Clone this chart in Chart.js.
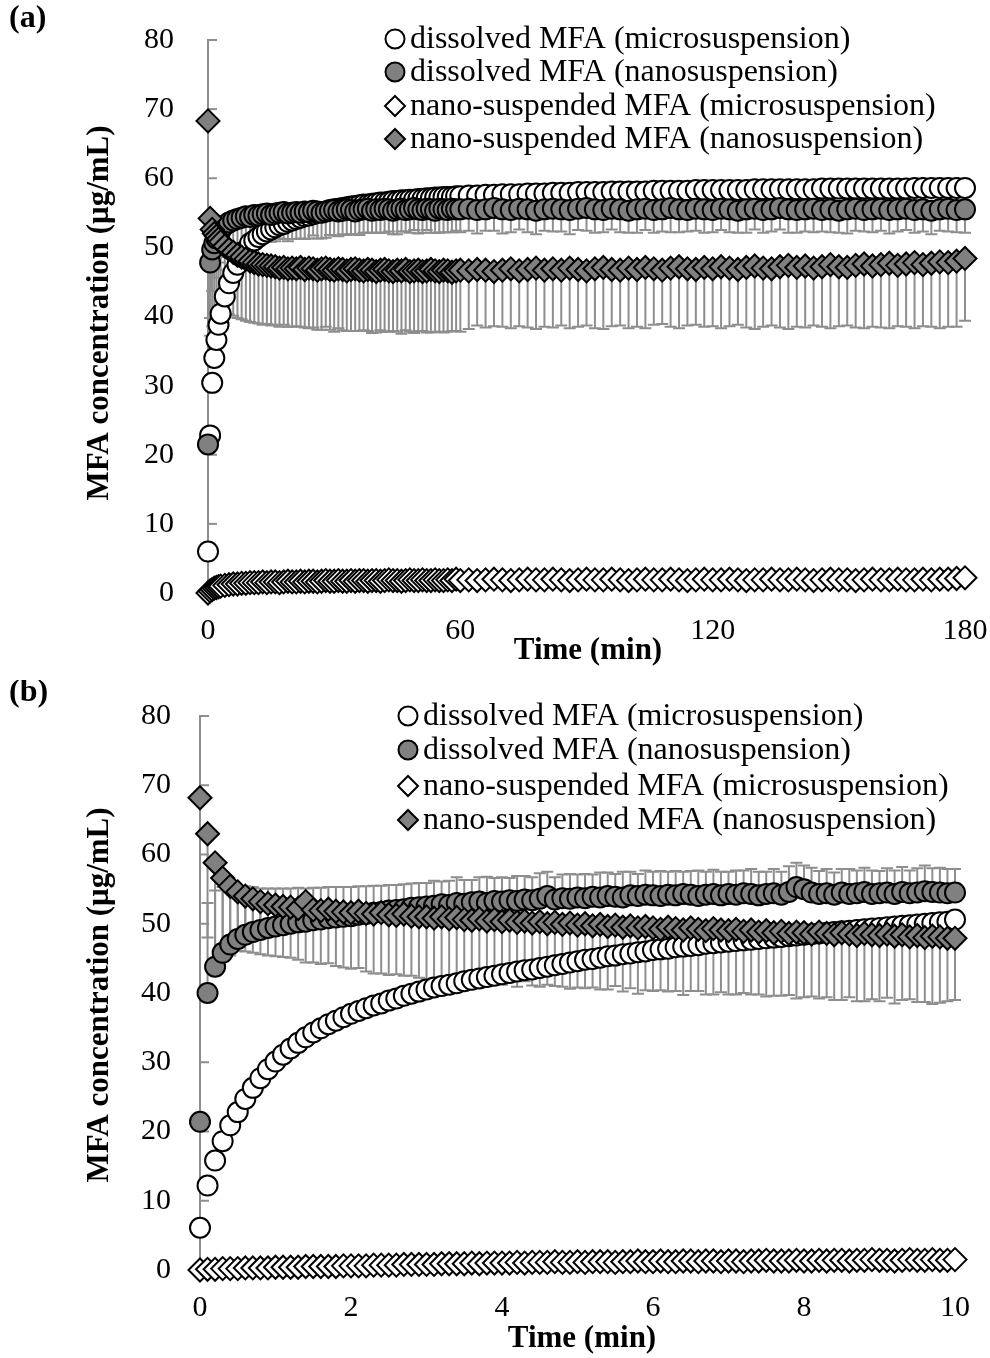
<!DOCTYPE html>
<html>
<head>
<meta charset="utf-8">
<script src="https://cdn.jsdelivr.net/npm/chart.js@4.4.0/dist/chart.umd.min.js"></script>
<style>
html, body { margin: 0; padding: 0; background: #fff; }
#wrap { position: relative; width: 990px; height: 1358px; }
.box { position: absolute; left: 0; width: 990px; }
#boxA { top: 0; height: 680px; }
#boxB { top: 680px; height: 678px; }
</style>
</head>
<body>
<div id="wrap">
  <div class="box" id="boxA"><canvas id="chartA"></canvas></div>
  <div class="box" id="boxB"><canvas id="chartB"></canvas></div>
</div>
<script>
// labels
const seriesNames = ['dissolved MFA (microsuspension)', 'dissolved MFA (nanosuspension)',
  'nano-suspended MFA (microsuspension)', 'nano-suspended MFA (nanosuspension)'];
const yTicks = [0, 10, 20, 30, 40, 50, 60, 70, 80];

// panel (a): 0-180 min
const timeA = [0,0.5,1,1.5,2,2.5,3,4,5,6,7,8,9,10,
  11,12,13,14,15,16,17,18,19,20,21,22,23,24,25,26,27,28,29,30,31,32,33,34,35,36,37,38,39,40,
  41,42,43,44,45,46,47,48,49,50,51,52,53,54,55,56,57,58,59,60,
  62,64,66,68,70,72,74,76,78,80,82,84,86,88,90,92,94,96,98,100,102,104,106,108,110,112,114,116,118,120,
  122,124,126,128,130,132,134,136,138,140,142,144,146,148,150,152,154,156,158,160,162,164,166,168,170,172,174,176,178,180];

const dissMicroA = [6.0,22.8,30.4,34.0,36.6,38.8,40.4,42.9,44.8,46.3,47.5,48.6,49.6,50.6,
  51.0,51.5,51.9,52.3,52.6,52.9,53.2,53.4,53.7,53.9, 54.1,54.3,54.5,54.6,54.8,55.0,55.1,55.2,55.4,55.5,
  55.6,55.7,55.8,55.9,56.0,56.1,56.2,56.2,56.3,56.4, 56.5,56.5,56.6,56.7,56.7,56.8,56.8,56.9,56.9,57.0,
  57.0,57.1,57.1,57.2,57.2,57.3,57.3,57.3,57.4,57.4, 57.5,57.5,57.6,57.6,57.7,57.7,57.7,57.8,57.8,57.8,
  57.9,57.9,57.9,58.0,58.0,58.0,58.0,58.1,58.1,58.1, 58.1,58.1,58.2,58.2,58.2,58.2,58.2,58.3,58.3,58.3,
  58.3,58.3,58.3,58.3,58.4,58.4,58.4,58.4,58.4,58.4, 58.4,58.4,58.5,58.5,58.5,58.5,58.5,58.5,58.5,58.5,
  58.5,58.5,58.5,58.6,58.6,58.6,58.6,58.6,58.6,58.6];

const dissNanoA = [21.5,47.8,49.7,50.6,51.3,51.8,52.4,53.2,53.6,53.9,54.1,54.3,54.5,54.4,
  54.7,54.6,54.8,54.9,54.7,54.9,55.0,55.1,54.9,55.0, 55.1,55.0,55.2,55.1,55.3,55.2,55.0,55.2,55.3,55.4,
  55.2,55.3,55.5,55.4,55.2,55.4,55.5,55.6,55.3,55.5, 55.4,55.6,55.5,55.3,55.5,55.6,55.4,55.5,55.7,55.5,
  55.4,55.6,55.5,55.3,55.6,55.5,55.4,55.6,55.5,55.5, 55.6,55.4,55.5,55.7,55.5,55.4,55.6,55.5,55.3,55.5,
  55.6,55.5,55.4,55.6,55.7,55.5,55.4,55.6,55.5,55.3, 55.5,55.6,55.4,55.5,55.7,55.5,55.4,55.6,55.5,55.4,
  55.6,55.5,55.3,55.5,55.6,55.4,55.5,55.7,55.5,55.4, 55.5,55.6,55.4,55.5,55.3,55.5,55.6,55.4,55.5,55.6,
  55.4,55.5,55.6,55.4,55.5,55.3,55.5,55.6,55.4,55.5];
const dissNanoErrA = [0,8.0,6.0,5.0,4.5,4.0,3.8,3.6,3.5,3.5,3.6,3.7,3.8,3.8,
  3.9,4.0,3.8,4.1,3.9,4.0,3.7,3.9,4.0,3.8, 3.9,3.7,4.0,3.8,3.6,3.9,3.7,3.8,3.5,3.7,
  3.6,3.4,3.7,3.5,3.3,3.6,3.4,3.5,3.2,3.4, 3.3,3.5,3.2,3.4,3.6,3.3,3.1,3.4,3.2,3.5,
  3.3,3.1,3.4,3.2,3.5,3.3,3.2,3.4,3.1,3.3, 3.2,3.4,3.1,3.3,3.5,3.2,3.0,3.3,3.4,3.1,
  3.3,3.2,3.5,3.1,3.3,3.4,3.2,3.0,3.3,3.2, 3.4,3.1,3.3,3.2,3.5,3.3,3.1,3.2,3.4,3.2,
  3.1,3.3,3.2,3.4,3.0,3.3,3.2,3.1,3.4,3.3, 3.2,3.4,3.1,3.3,3.2,3.5,3.2,3.1,3.3,3.2,
  3.4,3.2,3.1,3.3,3.2,3.4,3.1,3.3,3.2,3.4];

const suspMicroA = [0.0,0.3,0.5,0.7,0.8,0.9,1.0,1.1,1.2,1.3,1.3,1.4,1.4,1.5,
  1.5,1.5,1.6,1.5,1.6,1.6,1.5,1.6,1.7,1.6, 1.6,1.7,1.6,1.7,1.7,1.6,1.7,1.8,1.7,1.7,
  1.8,1.7,1.7,1.8,1.7,1.8,1.8,1.7,1.8,1.8, 1.7,1.8,1.9,1.8,1.8,1.7,1.8,1.9,1.8,1.8,
  1.9,1.8,1.8,1.9,1.8,1.8,1.9,1.8,2.0,1.8, 1.9,1.8,1.9,2.0,1.9,1.8,1.9,2.0,1.9,1.9,
  2.0,1.9,1.8,1.9,2.0,1.9,1.9,2.0,1.9,1.8, 1.9,2.0,1.9,1.9,2.0,1.9,1.8,1.9,2.0,1.9,
  1.9,2.0,1.9,1.8,1.9,1.9,2.0,1.9,1.9,2.0, 1.9,1.8,1.9,2.0,1.9,1.9,1.8,1.9,2.0,1.9,
  1.9,2.0,1.9,1.9,2.0,1.9,2.0,2.0,2.1,2.2];

const suspNanoA = [68.3,54.2,52.6,52.0,51.6,51.2,50.8,50.2,49.7,49.3,48.9,48.6,48.3,48.0,
  47.8,47.6,47.5,47.4,47.3,47.2,47.0,47.1,46.9,47.0, 46.9,47.1,46.8,47.0,46.9,46.7,46.9,47.0,46.8,46.7,
  46.9,46.8,46.6,46.8,46.9,46.7,46.6,46.8,46.7,46.5, 46.7,46.8,46.6,46.5,46.7,46.6,46.8,46.5,46.6,46.7,
  46.5,46.6,46.8,46.6,46.5,46.7,46.6,46.4,46.6,46.7, 46.6,46.8,46.7,46.5,46.7,46.9,46.6,46.8,47.0,46.7,
  46.9,46.7,47.0,46.8,46.6,46.9,47.1,46.8,46.7,47.0, 46.8,47.1,46.9,46.7,47.0,47.2,46.9,46.8,47.1,46.9,
  47.2,47.0,46.8,47.1,47.3,47.0,46.9,47.2,47.4,47.1, 47.3,47.0,47.2,47.5,47.2,47.1,47.4,47.6,47.3,47.5,
  47.7,47.4,47.6,47.8,47.5,47.7,47.9,47.8,48.0,48.4];
const suspNanoErrA = [0,17,14,12,11,10.5,10,9.6,9.4,9.2,9.1,9.0,8.9,8.8,
  8.7,8.6,8.7,8.5,8.6,8.4,8.5,8.3,8.4,8.5, 8.3,8.6,8.4,8.7,8.5,8.6,8.8,8.5,8.7,8.9,
  8.6,8.8,8.7,8.9,9.0,8.8,8.6,8.9,9.1,8.8, 8.7,9.0,8.8,8.6,8.9,9.1,8.8,8.7,9.0,8.8,
  8.6,8.9,9.1,8.8,8.7,9.0,8.8,8.5,8.7,8.9, 8.4,8.1,8.3,7.9,8.2,8.6,8.0,8.4,8.8,8.2,
  8.5,8.0,8.7,8.3,7.9,8.6,8.9,8.2,8.0,8.7, 8.3,8.8,8.1,7.8,8.5,8.9,8.2,8.0,8.6,8.3,
  8.9,8.4,8.0,8.7,9.1,8.5,8.2,8.8,9.2,8.6, 8.9,8.3,8.7,9.2,8.6,8.4,9.0,9.3,8.8,9.1,
  9.4,8.8,9.1,9.5,8.9,9.2,9.6,9.3,9.5,9.0];

// panel (b): 0-10 min
const timeB = [0,0.1,0.2,0.3,0.4,0.5,0.6,0.7,0.8,0.9,1,1.1,1.2,1.3,1.4,1.5,1.6,1.7,1.8,1.9,
  2,2.1,2.2,2.3,2.4,2.5,2.6,2.7,2.8,2.9,3,3.1,3.2,3.3,3.4,3.5,3.6,3.7,3.8,3.9,
  4,4.1,4.2,4.3,4.4,4.5,4.6,4.7,4.8,4.9,5,5.1,5.2,5.3,5.4,5.5,5.6,5.7,5.8,5.9,
  6,6.1,6.2,6.3,6.4,6.5,6.6,6.7,6.8,6.9,7,7.1,7.2,7.3,7.4,7.5,7.6,7.7,7.8,7.9,
  8,8.1,8.2,8.3,8.4,8.5,8.6,8.7,8.8,8.9,9,9.1,9.2,9.3,9.4,9.5,9.6,9.7,9.8,9.9,10];

const dissMicroB = [6.1,12.2,15.8,18.6,20.9,22.8,24.7,26.3,27.7,29.0,
  30.1,31.1,32.0,32.8,33.6,34.3,34.9,35.5,36.0,36.5, 37.0,37.4,37.8,38.2,38.5,38.9,39.2,39.6,39.9,40.2,
  40.5,40.8,41.0,41.2,41.4,41.7,41.9,42.1,42.3,42.5, 42.7,42.9,43.1,43.3,43.4,43.6,43.8,44.0,44.2,44.4,
  44.6,44.8,44.9,45.1,45.3,45.4,45.6,45.7,45.9,46.0, 46.2,46.3,46.4,46.6,46.7,46.8,46.9,47.1,47.2,47.3,
  47.4,47.5,47.6,47.7,47.8,47.9,48.0,48.1,48.2,48.3, 48.4,48.5,48.6,48.7,48.8,48.9,49.0,49.1,49.2,49.3,
  49.4,49.5,49.6,49.7,49.8,49.9,50.0,50.1,50.2,50.3, 50.6];

const dissNanoB = [21.4,40.0,43.8,45.8,47.0,47.8,48.4,48.8,49.1,49.4,
  49.6,49.8,50.0,50.2,50.3,50.5,50.6,50.8,50.9,51.0, 51.1,51.3,51.4,51.6,51.7,51.9,52.0,52.1,52.3,52.4,
  52.5,52.6,52.8,52.7,53.0,52.9,53.1,53.2,53.0,53.3, 53.2,53.4,53.3,53.5,53.4,53.6,54.0,53.5,53.7,53.6,
  53.8,53.7,53.9,53.8,54.0,53.9,53.8,54.1,54.0,54.2, 54.1,54.0,54.2,54.1,54.3,54.2,54.0,54.2,54.3,54.1,
  54.3,54.2,54.4,54.3,54.1,54.3,54.4,54.2,54.6,55.3, 55.0,54.5,54.3,54.4,54.2,54.5,54.3,54.4,54.6,54.3,
  54.4,54.5,54.3,54.6,54.4,54.5,54.7,54.6,54.5,54.4, 54.5];
const dissNanoErrB = [0,13,11,9.5,8.5,7.5,7.0,6.5,6.0,5.7,
  5.5,5.3,5.1,5.0,4.8,4.7,4.6,4.5,4.4,4.3, 4.2,4.1,4.0,3.9,3.8,3.7,3.6,3.6,3.5,3.5,
  3.4,3.6,3.3,3.5,3.7,3.4,3.2,3.5,3.8,3.3, 3.5,3.2,3.6,3.4,3.3,3.7,3.5,3.2,3.4,3.6,
  3.3,3.5,3.2,3.6,3.4,3.3,3.7,3.4,3.2,3.5, 3.4,3.6,3.3,3.5,3.2,3.4,3.7,3.3,3.5,3.4,
  3.2,3.5,3.3,3.6,3.4,3.2,3.5,3.3,3.7,3.5, 3.4,3.6,3.3,3.5,3.2,3.4,3.6,3.3,3.5,3.4,
  3.2,3.5,3.4,3.6,3.3,3.5,3.7,3.4,3.6,3.5, 3.4];

const suspMicroB = [0.0,0.1,0.1,0.2,0.2,0.2,0.3,0.3,0.3,0.3,
  0.4,0.4,0.4,0.4,0.5,0.5,0.5,0.5,0.5,0.6, 0.6,0.6,0.6,0.7,0.7,0.7,0.7,0.8,0.8,0.8,
  0.8,0.8,0.9,0.9,0.9,0.9,1.0,0.9,1.0,1.0, 1.0,1.0,1.1,1.0,1.1,1.1,1.1,1.2,1.1,1.1,
  1.2,1.1,1.2,1.2,1.2,1.1,1.2,1.2,1.3,1.2, 1.2,1.3,1.2,1.2,1.3,1.3,1.2,1.3,1.3,1.2,
  1.3,1.3,1.2,1.3,1.3,1.4,1.3,1.3,1.3,1.4, 1.3,1.3,1.4,1.3,1.4,1.4,1.3,1.4,1.4,1.5,
  1.4,1.4,1.3,1.4,1.5,1.4,1.4,1.5,1.4,1.4, 1.5];

const suspNanoB = [68.2,63.0,58.8,56.6,55.4,54.6,54.0,53.6,53.2,52.9,
  52.7,52.5,52.4,52.2,53.2,52.0,51.9,52.1,51.8,51.7, 51.6,51.8,51.5,51.4,51.6,51.3,51.2,51.4,51.1,51.0,
  51.0,50.8,51.0,50.7,50.9,50.6,50.5,50.7,50.4,50.6, 50.3,50.5,50.2,50.4,50.1,50.3,50.0,50.2,49.9,50.1,
  49.8,50.0,49.7,49.9,49.6,49.8,49.5,49.7,49.4,49.6, 49.4,49.2,49.5,49.3,49.1,49.4,49.2,49.0,49.3,49.1,
  49.0,49.2,48.9,49.1,48.8,49.0,48.7,48.9,48.6,48.8, 48.7,48.5,48.8,48.6,48.4,48.7,48.5,48.3,48.6,48.4,
  48.3,48.5,48.2,48.4,48.1,48.3,48.0,48.2,48.1,47.9, 47.9];
const suspNanoErrB = [0,15,14,11.5,10,8.5,8.0,7.8,7.6,7.5,
  7.4,7.3,7.3,7.4,8.8,7.6,7.7,7.8,7.9,8.0, 8.1,8.2,8.4,8.6,8.8,8.7,8.5,8.9,8.6,8.8,
  9.0,8.7,9.1,8.8,9.2,8.9,8.6,9.0,9.3,8.8, 9.1,8.9,9.3,8.7,9.0,9.4,8.8,9.2,9.0,9.5,
  9.0,9.3,8.9,9.4,9.1,8.8,9.3,9.0,9.5,9.2, 9.1,8.8,9.3,9.0,9.4,9.1,8.9,9.2,9.5,9.0,
  9.2,9.4,8.9,9.3,9.0,9.5,9.1,9.3,8.9,9.6, 9.3,9.0,9.6,9.2,9.4,9.7,9.1,9.5,9.8,9.3,
  9.5,9.2,9.7,9.4,9.0,9.6,9.3,9.8,9.5,9.1, 8.9];

const GRAY = '#808080';
const BAR = '#8e8e8e';
const AXIS = '#8e8e8e';
const FONT = "'Liberation Serif', 'Times New Roman', serif";

function shape(ctx, style, x, y, r, fill) {
  ctx.beginPath();
  if (style === 'circle') {
    ctx.arc(x, y, r, 0, Math.PI * 2);
  } else {
    ctx.moveTo(x, y - r); ctx.lineTo(x + r, y); ctx.lineTo(x, y + r); ctx.lineTo(x - r, y); ctx.closePath();
  }
  ctx.fillStyle = fill; ctx.fill();
  ctx.lineWidth = 2; ctx.strokeStyle = '#000'; ctx.stroke();
}

// error bars, drawn under the markers
const errorBars = {
  id: 'errorBars',
  beforeDatasetsDraw(chart) {
    const ctx = chart.ctx, ys = chart.scales.y, cap = 6;
    ctx.save();
    ctx.strokeStyle = BAR; ctx.lineWidth = 2;
    chart.data.datasets.forEach((ds, i) => {
      if (!ds.errPlus && !ds.errMinus) return;
      const meta = chart.getDatasetMeta(i);
      meta.data.forEach((pt, j) => {
        const v = ds.data[j].y;
        const hi = ds.errPlus ? v + ds.errPlus[j] : v;
        const lo = ds.errMinus ? v - ds.errMinus[j] : v;
        if (hi === lo) return;
        const yh = ys.getPixelForValue(hi), yl = ys.getPixelForValue(lo);
        ctx.beginPath();
        ctx.moveTo(pt.x, yh); ctx.lineTo(pt.x, yl);
        if (ds.errPlus) { ctx.moveTo(pt.x - cap, yh); ctx.lineTo(pt.x + cap, yh); }
        if (ds.errMinus) { ctx.moveTo(pt.x - cap, yl); ctx.lineTo(pt.x + cap, yl); }
        ctx.stroke();
      });
    });
    ctx.restore();
  }
};

// inward tick marks on the y axis
const innerTicks = {
  id: 'innerTicks',
  beforeDatasetsDraw(chart) {
    const ctx = chart.ctx, ys = chart.scales.y, x0 = chart.chartArea.left;
    ctx.save();
    ctx.strokeStyle = AXIS; ctx.lineWidth = 2;
    yTicks.forEach(v => {
      const y = ys.getPixelForValue(v);
      ctx.beginPath(); ctx.moveTo(x0, y); ctx.lineTo(x0 + 9, y); ctx.stroke();
    });
    ctx.restore();
  }
};

// legend, axis titles and panel letter
const overlay = {
  id: 'overlay',
  afterDraw(chart, args, o) {
    const ctx = chart.ctx;
    ctx.save();
    ctx.fillStyle = '#000';
    ctx.textBaseline = 'middle';
    ctx.font = 'bold 32px ' + FONT;
    ctx.textAlign = 'left';
    ctx.fillText(o.letter, 9, o.letterY);

    ctx.font = '32px ' + FONT;
    chart.data.datasets.forEach((ds, i) => {
      const y = o.legendY[i];
      shape(ctx, ds.pointStyle, o.legendX, y, ds.pointStyle === 'circle' ? 9.5 : 10, ds.backgroundColor);
      ctx.fillStyle = '#000';
      ctx.fillText(ds.label, o.legendX + 15, y + 1);
    });

    ctx.font = 'bold 31px ' + FONT;
    ctx.textAlign = 'center';
    ctx.fillText('Time (min)', o.xTitle[0], o.xTitle[1]);
    ctx.translate(o.yTitle[0], o.yTitle[1]);
    ctx.rotate(-Math.PI / 2);
    ctx.fillText('MFA concentration (\u03bcg/mL)', 0, 0);
    ctx.restore();
  }
};

function makeChart(id, p) {
  const sets = [
    { label: seriesNames[0], vals: p.s[0], style: 'circle', fill: '#fff', order: 4 },
    { label: seriesNames[1], vals: p.s[1], style: 'circle', fill: GRAY, order: 3, errPlus: p.ep[1], errMinus: p.em[1] },
    { label: seriesNames[2], vals: p.s[2], style: 'rectRot', fill: '#fff', order: 2 },
    { label: seriesNames[3], vals: p.s[3], style: 'rectRot', fill: GRAY, order: 1, errPlus: p.ep[3], errMinus: p.em[3] }
  ];
  const datasets = sets.map(s => ({
    label: s.label,
    data: p.t.map((t, k) => ({ x: t, y: s.vals[k] })),
    showLine: false,
    pointStyle: s.style,
    pointRadius: s.style === 'circle' ? 10 : 11.5,
    pointBorderWidth: 2,
    pointBorderColor: '#000',
    pointBackgroundColor: s.fill,
    backgroundColor: s.fill,
    borderColor: '#000',
    order: s.order,
    clip: false,
    errPlus: s.errPlus,
    errMinus: s.errMinus
  }));
  const H = p.H;
  return new Chart(document.getElementById(id), {
    type: 'scatter',
    data: { datasets },
    options: {
      responsive: true,
      maintainAspectRatio: false,
      animation: false,
      events: [],
      layout: { padding: { left: 0, right: 990 - p.right, top: p.top, bottom: 0 } },
      scales: {
        x: {
          type: 'linear', min: 0, max: p.xmax,
          afterFit(s) { s.height = H - p.bottom; s.paddingLeft = 0; s.paddingRight = 0; },
          grid: { display: false, drawTicks: false },
          border: { display: false },
          ticks: { stepSize: p.xstep, padding: p.xpad, color: '#000', font: { family: FONT, size: 30 } }
        },
        y: {
          min: 0, max: 80,
          afterFit(s) { s.width = p.left; s.paddingTop = 0; s.paddingBottom = 0; },
          grid: { display: false, drawTicks: false },
          border: { display: true, color: AXIS, width: 2 },
          ticks: { stepSize: 10, padding: p.ypad, color: '#000', font: { family: FONT, size: 30 } }
        }
      },
      plugins: {
        legend: { display: false },
        tooltip: { enabled: false },
        overlay: p.ov
      }
    },
    plugins: [errorBars, innerTicks, overlay]
  });
}

makeChart('chartA', {
  H: 680, left: 208, right: 965, top: 40, bottom: 593, xmax: 180, xstep: 60, xpad: 20, ypad: 34,
  t: timeA, s: [dissMicroA, dissNanoA, suspMicroA, suspNanoA],
  ep: [null, null, null, null], em: [null, dissNanoErrA, null, suspNanoErrA],
  ov: { letter: '(a)', letterY: 19, legendX: 395, legendY: [39, 72, 106, 139], xTitle: [588, 651], yTitle: [100, 313] }
});

makeChart('chartB', {
  H: 678, left: 200, right: 955, top: 36, bottom: 590, xmax: 10, xstep: 2, xpad: 20, ypad: 29,
  t: timeB, s: [dissMicroB, dissNanoB, suspMicroB, suspNanoB],
  ep: [null, dissNanoErrB, null, null], em: [null, null, null, suspNanoErrB],
  ov: { letter: '(b)', letterY: 13, legendX: 408, legendY: [36, 70, 106, 140], xTitle: [582, 659], yTitle: [100, 315] }
});
</script>
</body>
</html>
